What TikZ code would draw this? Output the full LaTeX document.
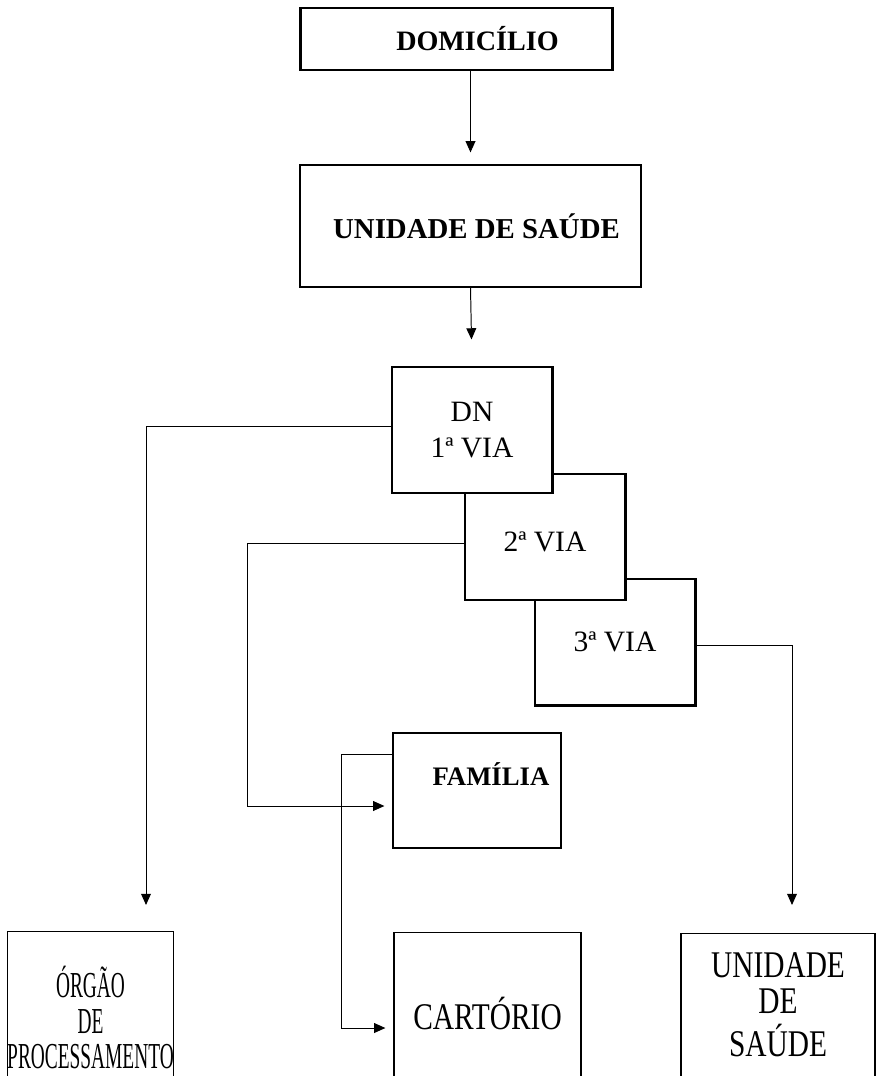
\documentclass[tikz,border=0pt]{standalone}
\usepackage{fontspec}
\setmainfont{Liberation Serif}
\newfontfamily\narrowfont[FakeStretch=0.78]{Liberation Serif}
\newfontfamily\narrowerfont[FakeStretch=0.53]{Liberation Serif}
\usetikzlibrary{arrows.meta,positioning}

\begin{document}
\begin{tikzpicture}[
        x=0.025cm, y=-0.025cm,
        every node/.style={align=center, inner sep=0pt},
        headbox/.style={draw, line width=2.1pt, fill=white, font=\fontsize{20}{24}\selectfont\bfseries},
        thinbox/.style={draw, line width=0.85pt, fill=white, font=\fontsize{20.5}{25}\selectfont\bfseries},
        viabox/.style={draw, line width=2.1pt, fill=white, minimum width=4cm, minimum height=3.15cm, font=\fontsize{21}{25}\selectfont},
        endbox/.style={draw, line width=0.85pt, anchor=north, font=\narrowfont\fontsize{26.8}{23.4}\selectfont},
        link/.style={line width=0.7pt, -{Triangle[length=8pt,width=7pt]}}
    ]

    \useasboundingbox (0,0) rectangle (888,1076);
    \clip (0,0) rectangle (888,1076);

    % Nodes
    \node (dom) [headbox, minimum width=7.775cm, minimum height=1.55cm] at (456.5,39) {\hspace*{1.05cm}DOMICÍLIO};
    \node (uds) [thinbox, minimum width=8.525cm, minimum height=3.05cm] at (470.5,226) {\hspace*{0.3cm}UNIDADE DE SAÚDE};

    \node (via3) [viabox] at (615,642) {3ª VIA};
    \node (via2) [viabox] at (545,537) {\raisebox{-0.12cm}[\height][\depth]{2ª VIA}};
    \node (dn)   [viabox] at (472,430) {DN \\ 1ª VIA};

    \node (fam) [thinbox, minimum width=4.2cm, minimum height=2.875cm, font=\fontsize{19}{23}\selectfont\bfseries] at (477,790.5)
        {\raisebox{0.4cm}[\height][\depth]{\hspace*{0.7cm}FAMÍLIA}};

    \node (org)  [endbox, minimum width=4.125cm, minimum height=4.3cm, font=\narrowerfont\fontsize{26}{25}\selectfont] at (90.5,931)
        {ÓRGÃO \\ DE \\ PROCESSAMENTO};
    \node (cart) [endbox, minimum width=4.675cm, minimum height=4.05cm] at (487.5,932) {CARTÓRIO};
    \node (uni)  [endbox, minimum width=4.85cm, minimum height=4.5cm, font=\narrowfont\fontsize{26.8}{25.5}\selectfont] at (778,933)
        {\raisebox{0.35cm}[\height][\depth]{\begin{tabular}{@{}c@{}}UNIDADE \\ DE \\ SAÚDE\end{tabular}}};

    \coordinate (orgin)  at (146,931);
    \coordinate (famin)  at (247,806);
    \coordinate (cartin) at (341,1028);
    \coordinate (uniin)  at (792,931);

    % Edges
    \draw[link, shorten >=0.3cm] (dom.south -| uds.north) -- (uds.north);
    \draw[link, shorten >=0.65cm] (uds.south) -- (dn.north);
    \draw[link, shorten >=0.65cm] ([yshift=0.1cm]dn.west) -| (orgin);
    \draw[link, shorten >=0.2cm] ([yshift=-0.15cm]via2.west) -| (famin) -- (fam.west |- famin);
    \draw[link, shorten >=0.2cm] ([yshift=0.89cm]fam.west) -| (cartin) -- (cart.west |- cartin);
    \draw[link, shorten >=0.65cm] ([yshift=-0.08cm]via3.east) -| (uniin);

\end{tikzpicture}
\end{document}
